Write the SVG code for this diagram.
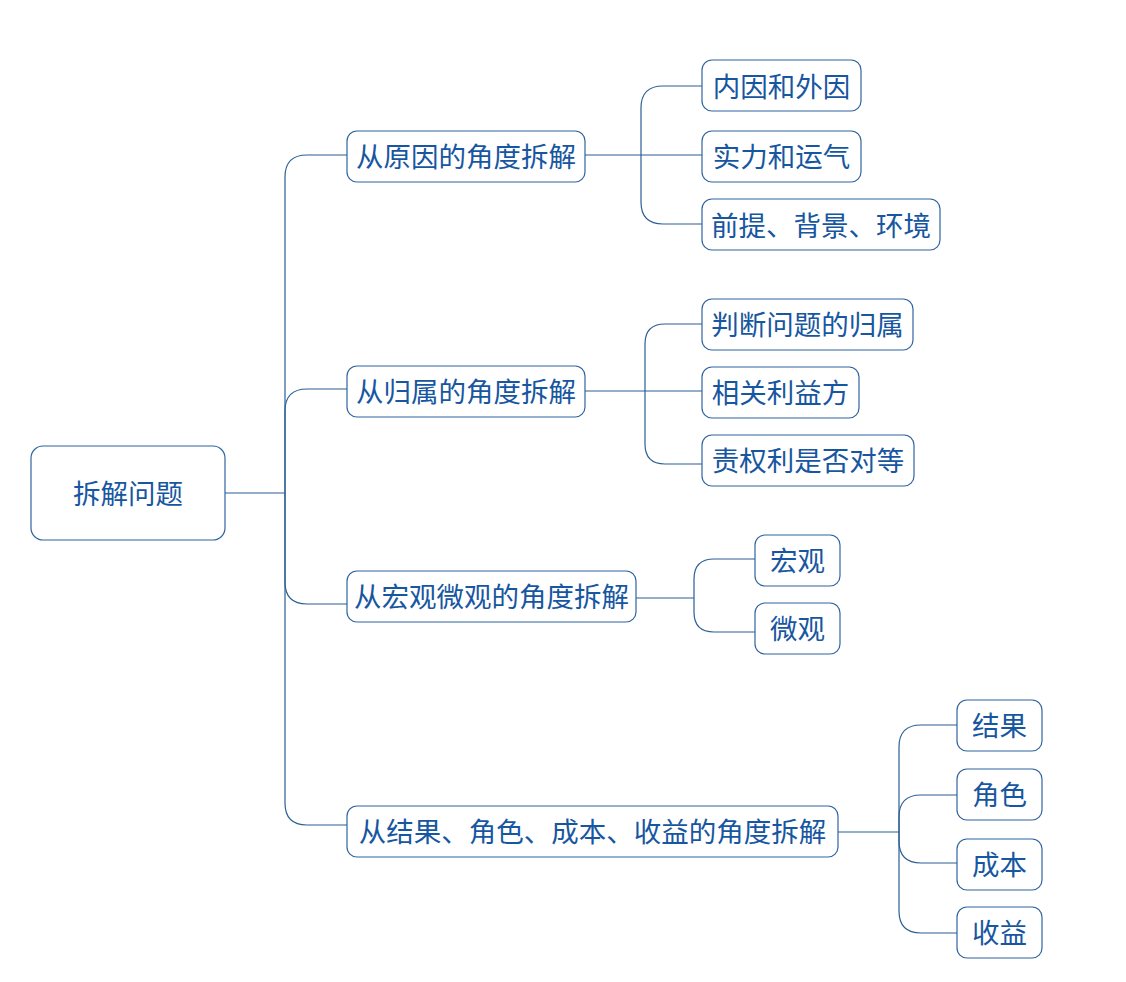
<svg xmlns="http://www.w3.org/2000/svg" width="1126" height="982" viewBox="0 0 1126 982">
<style>
.box{fill:#ffffff;stroke:#2f64a0;stroke-width:1.2}
.t{font-family:"Noto Sans CJK SC","Noto Sans",sans-serif;font-size:27.5px;fill:#1756a0;text-anchor:middle;dominant-baseline:central}
.c{fill:none;stroke:#2b5f96;stroke-width:1.2}
</style>
<rect width="1126" height="982" fill="#ffffff"/>
<g id="connectors">
<path class="c" d="M225,493 H285"/>
<path class="c" d="M285,493 V177 Q285,155 307,155 H347"/>
<path class="c" d="M285,493 V411 Q285,389 307,389 H347"/>
<path class="c" d="M285,493 V582 Q285,604 307,604 H347"/>
<path class="c" d="M285,493 V803 Q285,825 307,825 H347"/>
<path class="c" d="M585,155 H702"/>
<path class="c" d="M641,155 V108 Q641,86 663,86 H702"/>
<path class="c" d="M641,155 V202 Q641,224 663,224 H702"/>
<path class="c" d="M585,391 H702"/>
<path class="c" d="M645,391 V344 Q645,324 665,324 H702"/>
<path class="c" d="M645,391 V444 Q645,464 665,464 H702"/>
<path class="c" d="M636,598 H694"/>
<path class="c" d="M694,598 V579 Q694,559 714,559 H755"/>
<path class="c" d="M694,598 V612 Q694,632 714,632 H755"/>
<path class="c" d="M838,832 H899"/>
<path class="c" d="M899,832 V747 Q899,725 921,725 H957"/>
<path class="c" d="M899,832 V817 Q899,795 921,795 H957"/>
<path class="c" d="M899,832 V841 Q899,863 921,863 H957"/>
<path class="c" d="M899,832 V911 Q899,933 921,933 H957"/>
</g>
<g id="root"><rect class="box" x="31" y="446" width="194" height="94" rx="12"/><text class="t" x="128" y="492">拆解问题</text></g>
<g id="n1"><rect class="box" x="347" y="131" width="238" height="51" rx="10"/><text class="t" x="466" y="155">从原因的角度拆解</text></g>
<g id="n2"><rect class="box" x="347" y="366" width="238" height="51" rx="10"/><text class="t" x="466" y="390">从归属的角度拆解</text></g>
<g id="n3"><rect class="box" x="347" y="571" width="289" height="51" rx="10"/><text class="t" x="491.5" y="595">从宏观微观的角度拆解</text></g>
<g id="n4"><rect class="box" x="347" y="806" width="491" height="51" rx="10"/><text class="t" x="592.5" y="830">从结果、角色、成本、收益的角度拆解</text></g>
<g id="n1a"><rect class="box" x="702" y="60" width="159" height="51" rx="10"/><text class="t" x="781.5" y="85">内因和外因</text></g>
<g id="n1b"><rect class="box" x="702" y="131" width="159" height="51" rx="10"/><text class="t" x="781.5" y="155">实力和运气</text></g>
<g id="n1c"><rect class="box" x="702" y="199" width="238" height="51" rx="10"/><text class="t" x="821" y="224">前提、背景、环境</text></g>
<g id="n2a"><rect class="box" x="702" y="299" width="211" height="51" rx="10"/><text class="t" x="807.5" y="323">判断问题的归属</text></g>
<g id="n2b"><rect class="box" x="702" y="367" width="157" height="51" rx="10"/><text class="t" x="780.5" y="391">相关利益方</text></g>
<g id="n2c"><rect class="box" x="702" y="435" width="212" height="51" rx="10"/><text class="t" x="808" y="459">责权利是否对等</text></g>
<g id="n3a"><rect class="box" x="755" y="535" width="85" height="51" rx="10"/><text class="t" x="797.5" y="559">宏观</text></g>
<g id="n3b"><rect class="box" x="755" y="603" width="85" height="51" rx="10"/><text class="t" x="797.5" y="627">微观</text></g>
<g id="n4a"><rect class="box" x="957" y="700" width="85" height="51" rx="10"/><text class="t" x="999.5" y="724">结果</text></g>
<g id="n4b"><rect class="box" x="957" y="769" width="85" height="51" rx="10"/><text class="t" x="999.5" y="793">角色</text></g>
<g id="n4c"><rect class="box" x="957" y="839" width="85" height="51" rx="10"/><text class="t" x="999.5" y="863">成本</text></g>
<g id="n4d"><rect class="box" x="957" y="907" width="85" height="51" rx="10"/><text class="t" x="999.5" y="931">收益</text></g>
</svg>
